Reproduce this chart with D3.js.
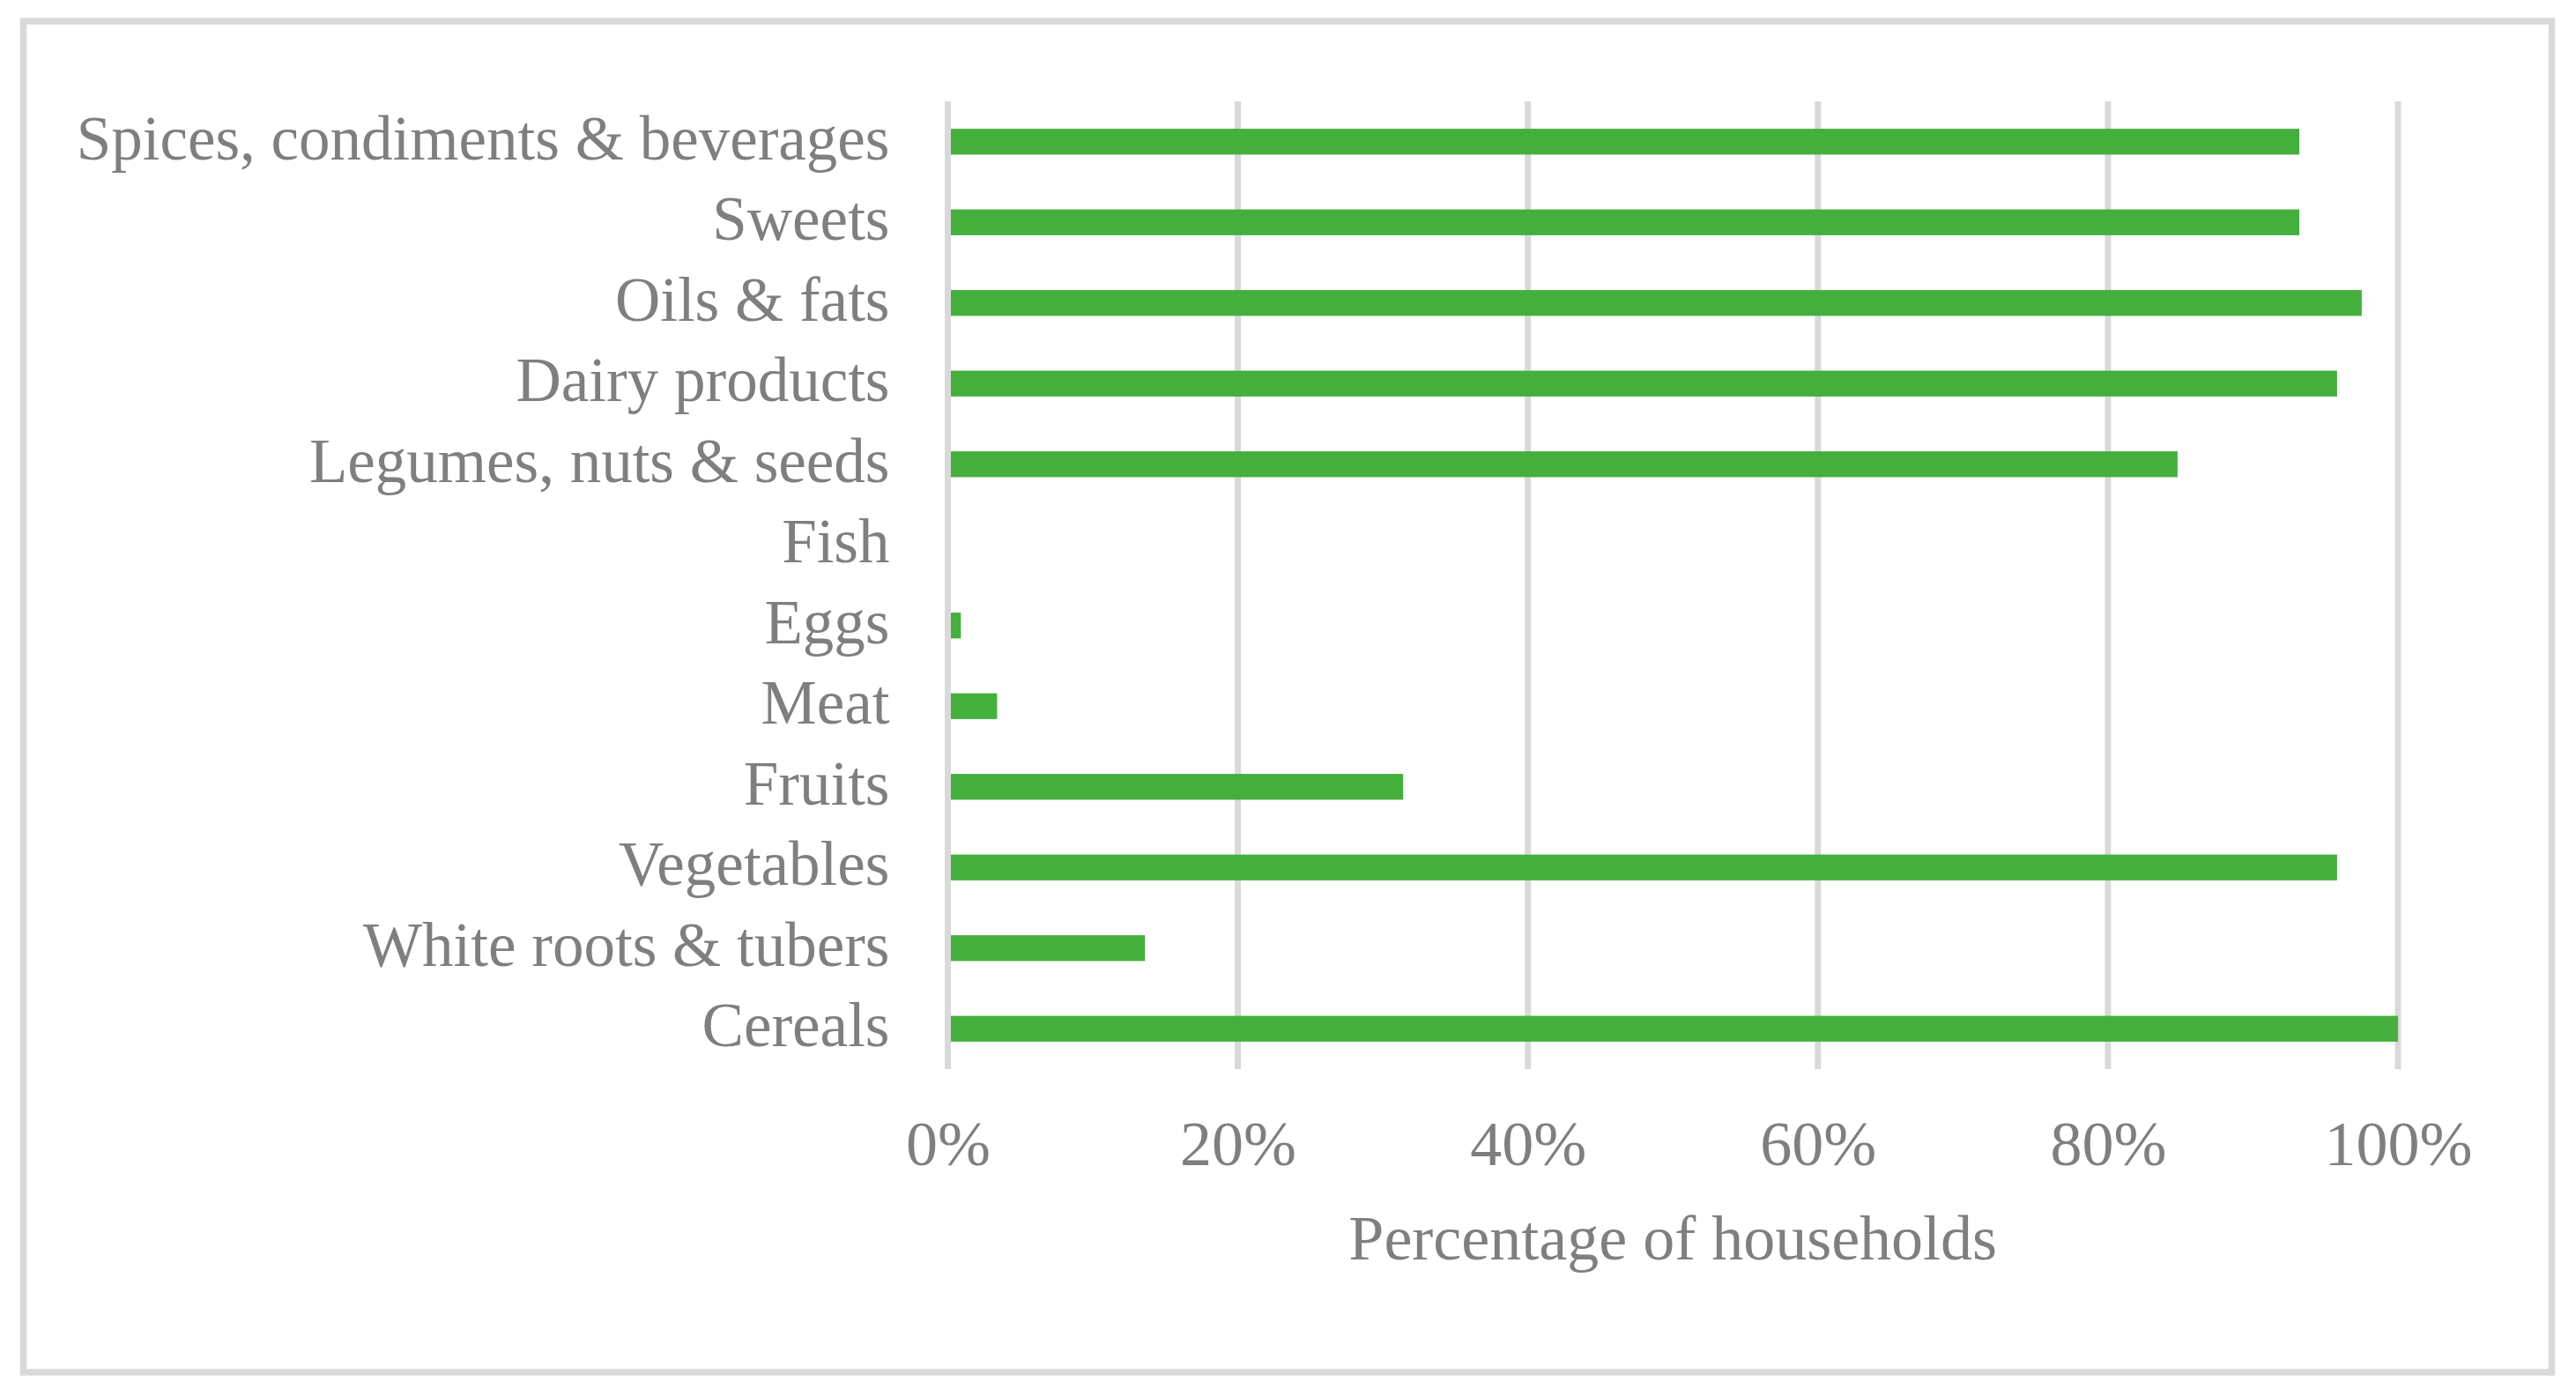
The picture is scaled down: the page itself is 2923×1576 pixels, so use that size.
<!DOCTYPE html>
<html lang="en">
<head>
    <meta charset="UTF-8">
    <title>Food groups consumed by households</title>
    <script src="https://d3js.org/d3.v7.min.js"></script>
    <style>
        html, body {
            margin: 0;
            padding: 0;
            background: #ffffff;
        }
        svg {
            display: block;
            font-family: "Liberation Serif", "DejaVu Serif", serif;
        }
        .label {
            fill: #7f7f7f;
            font-size: 72px;
        }
        .cat {
            font-size: 71px;
        }
    </style>
</head>
<body>
    <div id="chart"></div>

    <script>
        // categories top to bottom, as they appear in the chart
        const categories = [
            "Spices, condiments & beverages",
            "Sweets",
            "Oils & fats",
            "Dairy products",
            "Legumes, nuts & seeds",
            "Fish",
            "Eggs",
            "Meat",
            "Fruits",
            "Vegetables",
            "White roots & tubers",
            "Cereals"
        ];

        // share of households (0-1), same order
        const shares = [0.932, 0.932, 0.975, 0.958, 0.848, 0.0, 0.009, 0.034, 0.314, 0.958, 0.136, 1.0];

        const tickValues = [0, 0.2, 0.4, 0.6, 0.8, 1.0];
        const axisTitle = "Percentage of households";

        const width = 2923;
        const height = 1576;
        const margin = { top: 115, right: 202, bottom: 363, left: 1075.5 };

        const data = categories.map((c, i) => ({ category: c, value: shares[i] }));

        const svg = d3.select("#chart").append("svg")
            .attr("width", width)
            .attr("height", height);

        // outer chart border
        svg.append("rect")
            .attr("x", 26.5)
            .attr("y", 24)
            .attr("width", 2869)
            .attr("height", 1533)
            .attr("fill", "#ffffff")
            .attr("stroke", "#d9d9d9")
            .attr("stroke-width", 7.5);

        const x = d3.scaleLinear()
            .domain([0, 1])
            .range([margin.left, width - margin.right]);

        const y = d3.scaleBand()
            .domain(categories)
            .range([margin.top, height - margin.bottom])
            .paddingInner(0.68)
            .paddingOuter(0.34);

        // vertical gridlines
        svg.append("g")
            .selectAll("line")
            .data(tickValues)
            .join("line")
            .attr("x1", d => x(d))
            .attr("x2", d => x(d))
            .attr("y1", margin.top)
            .attr("y2", height - margin.bottom)
            .attr("stroke", "#d9d9d9")
            .attr("stroke-width", 7);

        // bars
        svg.append("g")
            .selectAll("rect")
            .data(data.filter(d => d.value > 0))
            .join("rect")
            .attr("x", x(0) + 3.5)
            .attr("y", d => y(d.category))
            .attr("width", d => Math.max(0, x(d.value) - x(0) - 3.5))
            .attr("height", y.bandwidth())
            .attr("fill", "#44af3c");

        // category labels
        svg.append("g")
            .selectAll("text")
            .data(categories)
            .join("text")
            .attr("class", "label cat")
            .attr("x", x(0) - 66)
            .attr("y", d => y(d) + y.bandwidth() / 2)
            .attr("dy", "0.28em")
            .attr("text-anchor", "end")
            .text(d => d);

        // x axis tick labels
        const xAxis = d3.axisBottom(x)
            .tickValues(tickValues)
            .tickFormat(d3.format(".0%"))
            .tickSize(0)
            .tickPadding(0);

        const axisG = svg.append("g")
            .attr("transform", `translate(0,${height - margin.bottom})`)
            .call(xAxis)
            .attr("font-family", null)
            .attr("font-size", null);

        axisG.select(".domain").remove();
        axisG.selectAll("text")
            .attr("class", "label")
            .attr("y", 109)
            .attr("dy", null)
            .attr("fill", null);

        // axis title
        svg.append("text")
            .attr("class", "label")
            .attr("x", (x(0) + x(1)) / 2)
            .attr("y", 1429)
            .attr("text-anchor", "middle")
            .text(axisTitle);
    </script>
</body>
</html>
